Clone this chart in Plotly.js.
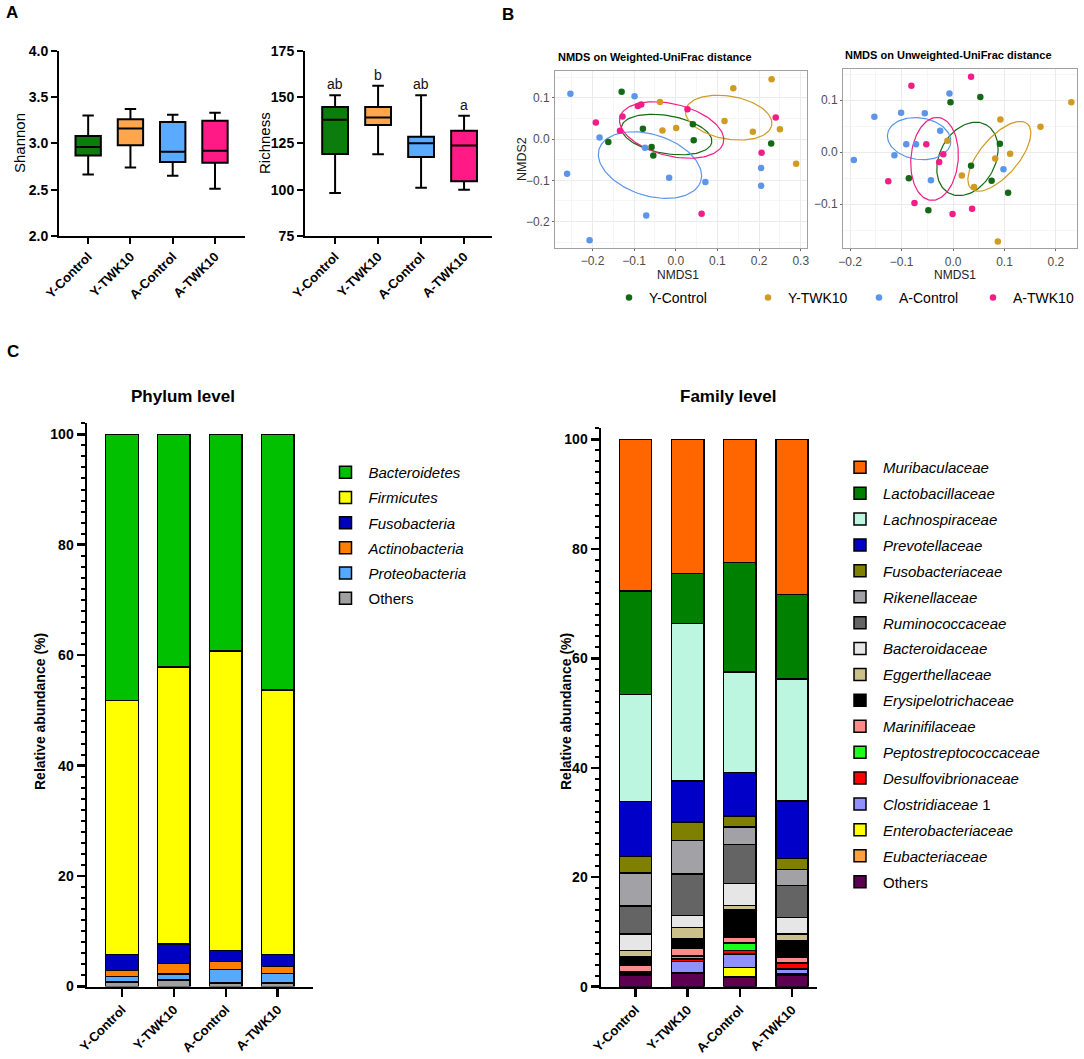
<!DOCTYPE html>
<html>
<head>
<meta charset="utf-8">
<script src="https://cdn.plot.ly/plotly-3.0.1.min.js"></script>
<style>html,body{margin:0;padding:0;background:#fff;}#chart{width:1084px;height:1059px;}</style>
</head>
<body>
<div id="chart"></div>
<script>
// ---------- DATA ----------
const groups = ['Y-Control', 'Y-TWK10', 'A-Control', 'A-TWK10'];

// Panel A: Shannon (box stats)
const shannonLow = [2.665, 2.74, 2.65, 2.51];
const shannonQ1 = [2.87, 2.98, 2.80, 2.79];
const shannonMedian = [2.96, 3.16, 2.91, 2.92];
const shannonQ3 = [3.08, 3.26, 3.23, 3.245];
const shannonHigh = [3.30, 3.37, 3.31, 3.33];

// Panel A: Richness (box stats)
const richLow = [98.2, 119.1, 101.1, 100.0];
const richQ1 = [119.2, 134.9, 117.6, 104.5];
const richMedian = [137.8, 139.0, 125.0, 123.9];
const richQ3 = [144.6, 144.6, 128.6, 131.8];
const richHigh = [150.9, 156.1, 150.9, 139.9];
const richLetters = ['ab', 'b', 'ab', 'a'];

// Panel B: NMDS weighted UniFrac
const wYControlX = [-0.130, -0.162, -0.079, -0.058, -0.054, 0.041, 0.043, 0.229];
const wYControlY = [0.115, -0.007, 0.025, -0.019, -0.040, 0.036, -0.003, -0.011];
const wYTWK10X = [-0.038, -0.032, 0.001, 0.117, 0.138, 0.230, 0.185, 0.250, 0.289];
const wYTWK10Y = [0.090, 0.021, 0.027, 0.044, 0.123, 0.145, 0.018, 0.024, -0.060];
const wAControlX = [-0.253, -0.099, -0.183, -0.261, -0.074, -0.016, 0.071, -0.071, -0.207, 0.205, 0.205];
const wAControlY = [0.110, 0.104, 0.004, -0.084, -0.021, -0.094, -0.104, -0.185, -0.245, -0.070, -0.113];
const wATWK10X = [-0.192, -0.134, -0.128, -0.091, -0.083, 0.028, 0.240, 0.206, 0.062];
const wATWK10Y = [0.040, 0.020, 0.055, 0.080, 0.084, 0.072, 0.052, -0.033, -0.181];
// ellipses: [cx, cy, semi-major, semi-minor, angle deg]
const wEllipses = [
  [-0.022, 0.011, 0.110, 0.046, -10],
  [0.127, 0.052, 0.105, 0.052, -10],
  [-0.062, -0.063, 0.128, 0.074, -18],
  [-0.010, 0.022, 0.128, 0.063, -14]
];

// Panel B: NMDS unweighted UniFrac
const uYControlX = [-0.005, 0.053, -0.086, -0.048, 0.035, 0.091, 0.075, 0.107];
const uYControlY = [0.096, 0.106, -0.050, -0.112, -0.026, 0.016, -0.055, -0.078];
const uYTWK10X = [0.230, 0.092, 0.170, -0.011, 0.082, 0.111, 0.017, 0.041, 0.087];
const uYTWK10Y = [0.096, 0.063, 0.049, 0.022, -0.012, -0.003, -0.045, -0.067, -0.172];
const uAControlX = [-0.193, -0.153, -0.101, -0.055, -0.007, -0.025, -0.091, -0.072, -0.114, -0.043, 0.098];
const uAControlY = [-0.015, 0.068, 0.076, 0.075, 0.113, 0.041, 0.015, 0.015, -0.006, -0.054, -0.033];
const uATWK10X = [-0.081, 0.035, -0.052, -0.019, -0.027, -0.126, -0.075, -0.001, 0.037];
const uATWK10Y = [0.128, 0.145, 0.015, -0.004, -0.019, -0.056, -0.098, -0.119, -0.109];
const uEllipses = [
  [0.028, -0.013, 0.075, 0.054, 61],
  [0.090, -0.008, 0.083, 0.037, 49],
  [-0.066, 0.026, 0.062, 0.040, -8],
  [-0.036, -0.013, 0.080, 0.046, 85]
];

// Panel C: phylum level (bottom to top)
const phylumNames = ['Others', '<i>Proteobacteria</i>', '<i>Actinobacteria</i>', '<i>Fusobacteria</i>', '<i>Firmicutes</i>', '<i>Bacteroidetes</i>'];
const phylumOthers = [0.8, 1.2, 0.6, 0.6];
const phylumProteobacteria = [1.0, 1.1, 2.5, 1.8];
const phylumActinobacteria = [1.1, 1.9, 1.4, 1.2];
const phylumFusobacteria = [2.9, 3.5, 2.0, 2.2];
const phylumFirmicutes = [46.0, 50.2, 54.3, 47.9];
const phylumBacteroidetes = [48.2, 42.1, 39.2, 46.3];

// Panel C: family level (bottom to top)
const familyNames = ['Others', '<i>Eubacteriaceae</i>', '<i>Enterobacteriaceae</i>', '<i>Clostridiaceae</i> 1',
  '<i>Desulfovibrionaceae</i>', '<i>Peptostreptococcaceae</i>', '<i>Marinifilaceae</i>', '<i>Erysipelotrichaceae</i>',
  '<i>Eggerthellaceae</i>', '<i>Bacteroidaceae</i>', '<i>Ruminococcaceae</i>', '<i>Rikenellaceae</i>',
  '<i>Fusobacteriaceae</i>', '<i>Prevotellaceae</i>', '<i>Lachnospiraceae</i>', '<i>Lactobacillaceae</i>', '<i>Muribaculaceae</i>'];
const famOthers = [2.0, 2.4, 1.7, 2.1];
const famEubacteriaceae = [0.2, 0.1, 0.1, 0.1];
const famEnterobacteriaceae = [0.1, 0.1, 1.7, 0.1];
const famClostridiaceae1 = [0.3, 2.0, 2.5, 0.9];
const famDesulfovibrionaceae = [0.1, 0.5, 0.6, 1.0];
const famPeptostreptococcaceae = [0.1, 0.5, 1.4, 0.1];
const famMarinifilaceae = [1.16, 1.4, 1.1, 1.1];
const famErysipelotrichaceae = [1.45, 1.8, 4.9, 3.0];
const famEggerthellaceae = [1.2, 2.0, 0.8, 1.2];
const famBacteroidaceae = [3.0, 2.2, 4.1, 3.0];
const famRuminococcaceae = [5.1, 7.6, 7.1, 5.9];
const famRikenellaceae = [6.1, 6.1, 3.2, 2.9];
const famFusobacteriaceae = [2.95, 3.4, 2.0, 2.0];
const famPrevotellaceae = [10.05, 7.5, 7.9, 10.5];
const famLachnospiraceae = [19.6, 28.8, 18.4, 22.3];
const famLactobacillaceae = [18.9, 9.1, 20.0, 15.5];
const famMuribaculaceae = [27.7, 24.5, 22.5, 28.3];

// ---------- STYLE ----------
const FONT = 'Liberation Sans, Arial, sans-serif';
const boxColors = ['#0c7c0c', '#ffa64d', '#5aabff', '#ff1a85'];
const nmdsColors = ['#146a14', '#cf9b22', '#5c95ea', '#f21d86'];
const phylumColors = ['#a0a0a0', '#55aaff', '#ff8000', '#0000c0', '#ffff00', '#00c000'];
const familyColors = ['#5e0050', '#ffa040', '#ffff00', '#9090ff', '#ff0000', '#1aff1a', '#ff8a8a', '#000000',
  '#cbbf8a', '#e6e6e6', '#646464', '#a2a2a6', '#808000', '#0000c8', '#bcf5e0', '#008000', '#ff6600'];

const phylumSeries = [phylumOthers, phylumProteobacteria, phylumActinobacteria, phylumFusobacteria, phylumFirmicutes, phylumBacteroidetes];
const familySeries = [famOthers, famEubacteriaceae, famEnterobacteriaceae, famClostridiaceae1, famDesulfovibrionaceae,
  famPeptostreptococcaceae, famMarinifilaceae, famErysipelotrichaceae, famEggerthellaceae, famBacteroidaceae,
  famRuminococcaceae, famRikenellaceae, famFusobacteriaceae, famPrevotellaceae, famLachnospiraceae,
  famLactobacillaceae, famMuribaculaceae];

const W = 1084, H = 1059;
const px = v => v / W;
const py = v => 1 - v / H;

const traces = [];

// box plots
for (let i = 0; i < 4; i++) {
  traces.push({
    type: 'box', x: [groups[i]], q1: [shannonQ1[i]], median: [shannonMedian[i]], q3: [shannonQ3[i]],
    lowerfence: [shannonLow[i]], upperfence: [shannonHigh[i]], xaxis: 'x', yaxis: 'y',
    fillcolor: boxColors[i], line: { color: '#000', width: 2 }, width: 0.6, whiskerwidth: 0.45,
    showlegend: false, hoverinfo: 'skip'
  });
  traces.push({
    type: 'box', x: [groups[i]], q1: [richQ1[i]], median: [richMedian[i]], q3: [richQ3[i]],
    lowerfence: [richLow[i]], upperfence: [richHigh[i]], xaxis: 'x2', yaxis: 'y2',
    fillcolor: boxColors[i], line: { color: '#000', width: 2 }, width: 0.6, whiskerwidth: 0.45,
    showlegend: false, hoverinfo: 'skip'
  });
}

// NMDS
function ellipsePts(e) {
  const [cx, cy, a, b, deg] = e;
  const t = deg * Math.PI / 180;
  const xs = [], ys = [];
  for (let k = 0; k <= 120; k++) {
    const u = 2 * Math.PI * k / 120;
    const ex = a * Math.cos(u), ey = b * Math.sin(u);
    xs.push(cx + ex * Math.cos(t) - ey * Math.sin(t));
    ys.push(cy + ex * Math.sin(t) + ey * Math.cos(t));
  }
  return [xs, ys];
}
const wX = [wYControlX, wYTWK10X, wAControlX, wATWK10X];
const wY = [wYControlY, wYTWK10Y, wAControlY, wATWK10Y];
const uX = [uYControlX, uYTWK10X, uAControlX, uATWK10X];
const uY = [uYControlY, uYTWK10Y, uAControlY, uATWK10Y];
const nmdsLegends = ['legend3', 'legend4', 'legend5', 'legend6'];
for (let i = 0; i < 4; i++) {
  const we = ellipsePts(wEllipses[i]);
  traces.push({ type: 'scatter', mode: 'lines', x: we[0], y: we[1], xaxis: 'x3', yaxis: 'y3',
    line: { color: nmdsColors[i], width: 1.2 }, showlegend: false, hoverinfo: 'skip' });
  const ue = ellipsePts(uEllipses[i]);
  traces.push({ type: 'scatter', mode: 'lines', x: ue[0], y: ue[1], xaxis: 'x4', yaxis: 'y4',
    line: { color: nmdsColors[i], width: 1.2 }, showlegend: false, hoverinfo: 'skip' });
}
for (let i = 0; i < 4; i++) {
  traces.push({ type: 'scatter', mode: 'markers', x: wX[i], y: wY[i], xaxis: 'x3', yaxis: 'y3',
    marker: { color: nmdsColors[i], size: 6.5 }, name: groups[i], legend: nmdsLegends[i], showlegend: true, hoverinfo: 'skip' });
  traces.push({ type: 'scatter', mode: 'markers', x: uX[i], y: uY[i], xaxis: 'x4', yaxis: 'y4',
    marker: { color: nmdsColors[i], size: 6.5 }, name: groups[i], showlegend: false, hoverinfo: 'skip' });
}

// stacked bars
phylumSeries.forEach((vals, i) => {
  traces.push({ type: 'bar', x: groups, y: vals, xaxis: 'x5', yaxis: 'y5', name: phylumNames[i],
    legend: 'legend', legendgroup: 'p' + i, legendrank: 100 - i, width: 0.63,
    marker: { color: phylumColors[i], line: { color: '#000', width: 1.5 } }, hoverinfo: 'skip' });
});
familySeries.forEach((vals, i) => {
  traces.push({ type: 'bar', x: groups, y: vals, xaxis: 'x6', yaxis: 'y6', name: familyNames[i],
    legend: 'legend2', legendgroup: 'f' + i, legendrank: 100 - i, width: 0.62,
    marker: { color: familyColors[i], line: { color: '#000', width: 1.5 } }, hoverinfo: 'skip' });
});

// ---------- LAYOUT ----------
const tickBold = { family: FONT, size: 13, color: '#000', weight: 'bold' };
const tickBoldY = { family: FONT, size: 14, color: '#000', weight: 'bold' };
function prismX(domain, range, anchor) {
  return { domain, range, anchor, type: 'category', showline: true, linecolor: '#000', linewidth: 2,
    ticks: 'outside', ticklen: 6, tickwidth: 2, tickcolor: '#000', tickangle: -45, tickfont: tickBold,
    showgrid: false, zeroline: false, fixedrange: true };
}
function prismY(domain, range, anchor, dtick, extra) {
  return Object.assign({ domain, range, anchor, dtick, showline: true, linecolor: '#000', linewidth: 2,
    ticks: 'outside', ticklen: 6, tickwidth: 2, tickcolor: '#000', tickfont: tickBoldY,
    showgrid: false, zeroline: false, fixedrange: true }, extra || {});
}
function ggX(domain, range, anchor) {
  return { domain, range, anchor, dtick: 0.1, tickformat: '.1f', showline: true, mirror: true,
    linecolor: '#a0a0a0', linewidth: 1, ticks: 'outside', ticklen: 2, tickcolor: '#666',
    tickfont: { family: FONT, size: 12, color: '#4d4d4d' }, showgrid: true, gridcolor: '#ebebeb', gridwidth: 1,
    minor: { dtick: 0.05, showgrid: true, gridcolor: '#f6f6f6' }, zeroline: false, fixedrange: true };
}

const annotations = [
  { text: '<b>A</b>', x: px(12), y: py(13), font: { size: 17 } },
  { text: '<b>B</b>', x: px(508), y: py(14), font: { size: 17 } },
  { text: '<b>C</b>', x: px(13), y: py(352), font: { size: 17 } },
  { text: 'Shannon', x: px(20), y: py(143), textangle: -90, font: { size: 15 } },
  { text: 'Richness', x: px(265), y: py(143), textangle: -90, font: { size: 15 } },
  { text: '<b>NMDS on Weighted-UniFrac distance</b>', x: px(556), y: py(57), xanchor: 'left', font: { size: 11 } },
  { text: '<b>NMDS on Unweighted-UniFrac distance</b>', x: px(843), y: py(55), xanchor: 'left', font: { size: 11 } },
  { text: 'NMDS2', x: px(522), y: py(159), textangle: -90, font: { size: 12.5, color: '#222' } },
  { text: 'NMDS1', x: px(678), y: py(275), font: { size: 12, color: '#222' } },
  { text: 'NMDS1', x: px(955), y: py(275), font: { size: 12, color: '#222' } },
  { text: '<b>Phylum level</b>', x: px(183), y: py(397), font: { size: 17 } },
  { text: '<b>Family level</b>', x: px(728), y: py(397), font: { size: 17 } },
  { text: '<b>Relative abundance (%)</b>', x: px(40), y: py(712), textangle: -90, font: { size: 14 } },
  { text: '<b>Relative abundance (%)</b>', x: px(566), y: py(712), textangle: -90, font: { size: 14 } }
].map(a => Object.assign({ xref: 'paper', yref: 'paper', showarrow: false, xanchor: 'center', yanchor: 'middle' }, a,
  { font: Object.assign({ family: FONT, color: '#000' }, a.font) }));

for (let i = 0; i < 4; i++) {
  annotations.push({ text: richLetters[i], xref: 'x2', yref: 'y2', x: groups[i], y: richHigh[i],
    yanchor: 'bottom', yshift: 1, showarrow: false, font: { family: FONT, size: 14, color: '#111' } });
}

const nmdsLegendX = [609, 748, 859, 973];

const layout = {
  width: W, height: H, margin: { l: 0, r: 0, t: 0, b: 0 }, paper_bgcolor: '#fff', plot_bgcolor: '#fff',
  font: { family: FONT, color: '#000' }, barmode: 'stack', showlegend: true,
  xaxis: prismX([px(59), px(245)], [-0.69, 3.71], 'y'),
  yaxis: prismY([1 - 236 / H, 1 - 50.7 / H], [2, 4], 'x', 0.5, { tickformat: '.1f' }),
  xaxis2: prismX([px(305), px(492)], [-0.70, 3.65], 'y2'),
  yaxis2: prismY([1 - 236 / H, 1 - 50.7 / H], [75, 175], 'x2', 25),
  xaxis3: ggX([px(555), px(807)], [-0.29, 0.315], 'y3'),
  yaxis3: ggX([1 - 248 / H, 1 - 71 / H], [-0.264, 0.165], 'x3'),
  xaxis4: ggX([px(843), px(1077)], [-0.214, 0.241], 'y4'),
  yaxis4: ggX([1 - 248.3 / H, 1 - 69 / H], [-0.185, 0.160], 'x4'),
  xaxis5: Object.assign(prismX([px(87), px(313)], [-0.674, 3.68], 'y5'), { linewidth: 2.5, ticklen: 8, tickwidth: 2.5 }),
  yaxis5: prismY([1 - 986.5 / H, 1 - 422.7 / H], [0, 102.1], 'x5', 20,
    { linewidth: 2.5, ticklen: 8, tickwidth: 2.5, minor: { dtick: 2, ticks: 'outside', ticklen: 4, tickwidth: 2, tickcolor: '#000' } }),
  xaxis6: Object.assign(prismX([px(601), px(817)], [-0.66, 3.48], 'y6'), { linewidth: 2.5, ticklen: 8, tickwidth: 2.5 }),
  yaxis6: prismY([1 - 986.7 / H, 1 - 428.4 / H], [0, 102], 'x6', 20,
    { linewidth: 2.5, ticklen: 8, tickwidth: 2.5, minor: { dtick: 2, ticks: 'outside', ticklen: 4, tickwidth: 2, tickcolor: '#000' } }),
  legend: { x: px(322.5), y: py(456), xanchor: 'left', yanchor: 'top', traceorder: 'grouped', tracegroupgap: 2.7,
    itemwidth: 36, font: { family: FONT, size: 15, color: '#000' }, bgcolor: 'rgba(0,0,0,0)' },
  legend2: { x: px(837), y: py(451), xanchor: 'left', yanchor: 'top', traceorder: 'grouped', tracegroupgap: 3.4,
    itemwidth: 36, font: { family: FONT, size: 15, color: '#000' }, bgcolor: 'rgba(0,0,0,0)' },
  annotations
};
nmdsLegends.forEach((name, i) => {
  layout[name] = { x: px(nmdsLegendX[i]), y: py(298), xanchor: 'left', yanchor: 'middle', orientation: 'h',
    font: { family: FONT, size: 14, color: '#000' }, bgcolor: 'rgba(0,0,0,0)', itemwidth: 30 };
});

Plotly.newPlot('chart', traces, layout, { staticPlot: true, displayModeBar: false });
</script>
</body>
</html>
